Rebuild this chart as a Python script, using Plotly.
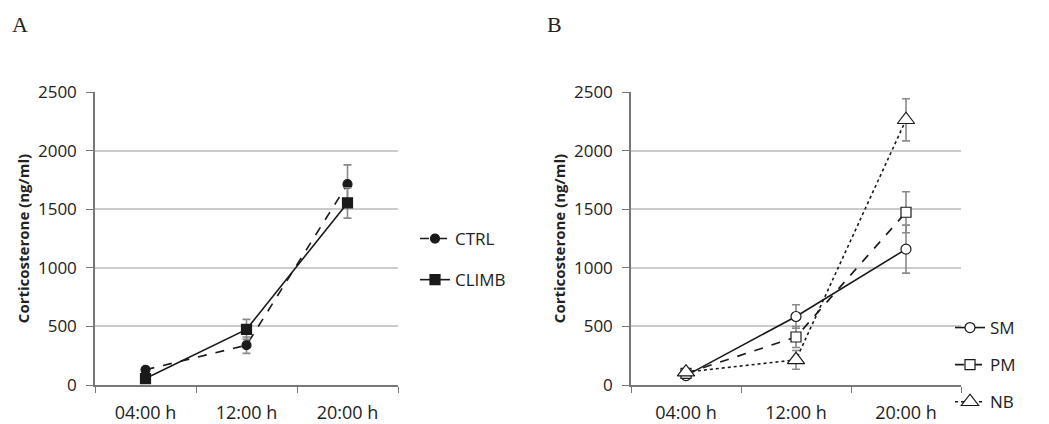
import plotly.graph_objects as go

times = ["04:00 h", "12:00 h", "20:00 h"]

# Panel A
ctrl = [130, 340, 1715]
ctrl_err = [20, 70, 165]
climb = [55, 475, 1555]
climb_err = [20, 85, 130]

# Panel B
sm = [80, 585, 1160]
sm_err = [20, 100, 205]
pm = [100, 410, 1475]
pm_err = [20, 90, 175]
nb = [110, 215, 2265]
nb_err = [25, 80, 180]

# page is offset by the default 8px body margin
OFF = 8
W, H = 1049 - OFF, 424 - OFF
LINE = "#1a1a1a"
ERR = "#8a8a8a"
FONT = "Open Sans, Liberation Sans, sans-serif"
TXT = "#222222"


def fx(px):
    return (px - OFF) / W


def fy(py):
    return 1 - (py - OFF) / H


fig = go.Figure()


def add(x, y, err, name, symbol, size, dash, xa, ya, legend, fill):
    fig.add_trace(go.Scatter(
        x=x, y=y, name=name, mode="lines+markers",
        xaxis=xa, yaxis=ya, legend=legend, legendgroup=name,
        line=dict(color=LINE, width=1.6, dash=dash),
        marker=dict(symbol=symbol, size=size, color=fill,
                    line=dict(color=LINE, width=1.2)),
        error_y=dict(type="data", array=err, color=ERR, thickness=1.6, width=4),
    ))


add(times, ctrl, ctrl_err, "CTRL", "circle", 9, "dash", "x", "y", "legend", LINE)
add(times, climb, climb_err, "CLIMB", "square", 10, "solid", "x", "y", "legend", LINE)
add(times, sm, sm_err, "SM", "circle", 10, "solid", "x2", "y2", "legend2", "white")
add(times, pm, pm_err, "PM", "square", 10, "dash", "x2", "y2", "legend2", "white")
add(times, nb, nb_err, "NB", "triangle-up", 15, "dot", "x2", "y2", "legend2", "white")

ytop = fy(92)
ybot = fy(385)

xcommon = dict(type="category", tickson="boundaries", ticks="outside", ticklen=6,
               tickcolor="#777", showline=True, linecolor="#777", linewidth=1.5,
               showgrid=False, range=[-0.5, 2.5], automargin=False,
               ticklabelstandoff=11,
               tickfont=dict(family=FONT, size=18, color=TXT))
ycommon = dict(range=[0, 2502], tickvals=[0, 500, 1000, 1500, 2000, 2500],
               ticks="outside", ticklen=7, tickcolor="#777",
               showline=True, linecolor="#777", linewidth=1.5, automargin=False,
               showgrid=True, gridcolor="#cccccc", gridwidth=2, zeroline=False,
               ticklabelstandoff=6,
               tickfont=dict(family=FONT, size=17, color=TXT),
               title=dict(text="<b>Corticosterone (ng/ml)</b>", standoff=5,
                          font=dict(family=FONT, size=15, color=TXT)))

fig.update_layout(
    width=W, height=H,
    margin=dict(l=0, r=0, t=0, b=0, autoexpand=False),
    paper_bgcolor="white", plot_bgcolor="white",
    xaxis=dict(domain=[fx(95), fx(398)], anchor="y", **xcommon),
    yaxis=dict(domain=[ybot, ytop], anchor="x", **ycommon),
    xaxis2=dict(domain=[fx(631), fx(961)], anchor="y2", **xcommon),
    yaxis2=dict(domain=[ybot, ytop], anchor="x2", **ycommon),
    legend=dict(x=fx(415), y=fy(221), xanchor="left", yanchor="top",
                font=dict(family=FONT, size=17, color=TXT),
                bgcolor="rgba(0,0,0,0)", tracegroupgap=16, itemwidth=30),
    legend2=dict(x=fx(950), y=fy(310), xanchor="left", yanchor="top",
                 font=dict(family=FONT, size=17, color=TXT),
                 bgcolor="rgba(0,0,0,0)", tracegroupgap=12, itemwidth=30),
    showlegend=True,
    annotations=[
        dict(text="A", x=fx(10), y=fy(10), xref="paper", yref="paper",
             xanchor="left", yanchor="top", showarrow=False,
             font=dict(family="Liberation Serif, serif", size=22, color=TXT)),
        dict(text="B", x=fx(545), y=fy(10), xref="paper", yref="paper",
             xanchor="left", yanchor="top", showarrow=False,
             font=dict(family="Liberation Serif, serif", size=22, color=TXT)),
    ],
)

fig.write_html("out.html")
